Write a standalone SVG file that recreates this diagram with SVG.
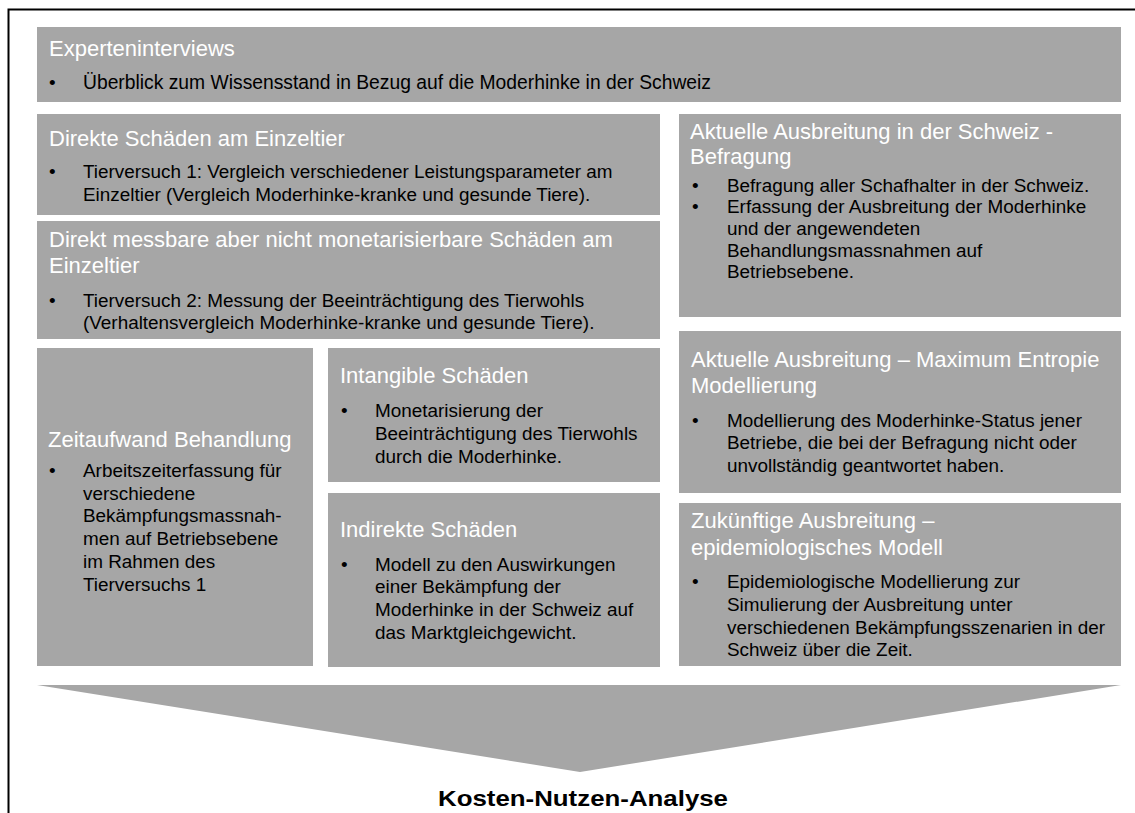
<svg xmlns="http://www.w3.org/2000/svg" width="1135" height="813" viewBox="0 0 1135 813">
<style>
.box{fill:#a6a6a6}
.t{font-family:"Liberation Sans",Arial,sans-serif;font-size:22px;fill:#ffffff}
.b{font-family:"Liberation Sans",Arial,sans-serif;font-size:18.9px;fill:#000000}
.k{font-family:"Liberation Sans",Arial,sans-serif;font-size:21.5px;font-weight:bold;fill:#000000}
</style>
<rect width="1135" height="813" fill="#ffffff"/>
<path d="M8.5,813 V9.5 H1135" fill="none" stroke="#000" stroke-width="2"/>

<g id="experteninterviews">
<rect class="box" x="37" y="27" width="1084" height="75"/>
<text class="t" x="49" y="56">Experteninterviews</text>
<text class="b" x="49" y="89">•</text>
<text class="b" x="83" y="89" style="font-size:19.3px">Überblick zum Wissensstand in Bezug auf die Moderhinke in der Schweiz</text>
</g>

<g id="direkte-schaeden">
<rect class="box" x="37" y="114" width="623" height="101"/>
<text class="t" x="49" y="146">Direkte Schäden am Einzeltier</text>
<text class="b" x="49" y="178.3">•</text>
<text class="b" x="83" y="178.3">Tierversuch 1: Vergleich verschiedener Leistungsparameter am</text>
<text class="b" x="83" y="201.3">Einzeltier (Vergleich Moderhinke-kranke und gesunde Tiere).</text>
</g>

<g id="direkt-messbare">
<rect class="box" x="37" y="221" width="623" height="118"/>
<text class="t" x="49" y="246.7">Direkt messbare aber nicht monetarisierbare Schäden am</text>
<text class="t" x="49" y="273.3">Einzeltier</text>
<text class="b" x="49" y="306.7">•</text>
<text class="b" x="83" y="306.7">Tierversuch 2: Messung der Beeinträchtigung des Tierwohls</text>
<text class="b" x="83" y="329.3">(Verhaltensvergleich Moderhinke-kranke und gesunde Tiere).</text>
</g>

<g id="zeitaufwand">
<rect class="box" x="37" y="348" width="276" height="318"/>
<text class="t" x="48" y="447.3">Zeitaufwand Behandlung</text>
<text class="b" x="49" y="476.7">•</text>
<text class="b" x="83" y="476.7">Arbeitszeiterfassung für</text>
<text class="b" x="83" y="499.5">verschiedene</text>
<text class="b" x="83" y="522.3">Bekämpfungsmassnah-</text>
<text class="b" x="83" y="545.1">men auf Betriebsebene</text>
<text class="b" x="83" y="567.9">im Rahmen des</text>
<text class="b" x="83" y="590.7">Tierversuchs 1</text>
</g>

<g id="intangible">
<rect class="box" x="328" y="348" width="332" height="134"/>
<text class="t" x="340" y="383.3">Intangible Schäden</text>
<text class="b" x="341" y="417.3">•</text>
<text class="b" x="375" y="417.3">Monetarisierung der</text>
<text class="b" x="375" y="440">Beeinträchtigung des Tierwohls</text>
<text class="b" x="375" y="462.7">durch die Moderhinke.</text>
</g>

<g id="indirekte">
<rect class="box" x="328" y="493" width="332" height="174"/>
<text class="t" x="340" y="537.3">Indirekte Schäden</text>
<text class="b" x="341" y="570.7">•</text>
<text class="b" x="375" y="570.7">Modell zu den Auswirkungen</text>
<text class="b" x="375" y="593.4">einer Bekämpfung der</text>
<text class="b" x="375" y="616.1">Moderhinke in der Schweiz auf</text>
<text class="b" x="375" y="638.8">das Marktgleichgewicht.</text>
</g>

<g id="befragung">
<rect class="box" x="679" y="114" width="442" height="203"/>
<text class="t" x="690" y="139.3">Aktuelle Ausbreitung in der Schweiz -</text>
<text class="t" x="690" y="164.3">Befragung</text>
<text class="b" x="692" y="191.7">•</text>
<text class="b" x="727" y="191.7">Befragung aller Schafhalter in der Schweiz.</text>
<text class="b" x="692" y="213.3">•</text>
<text class="b" x="727" y="213.3">Erfassung der Ausbreitung der Moderhinke</text>
<text class="b" x="727" y="235">und der angewendeten</text>
<text class="b" x="727" y="256.7">Behandlungsmassnahmen auf</text>
<text class="b" x="727" y="278.3">Betriebsebene.</text>
</g>

<g id="maximum-entropie">
<rect class="box" x="679" y="331" width="442" height="162"/>
<text class="t" x="691" y="366.7">Aktuelle Ausbreitung – Maximum Entropie</text>
<text class="t" x="691" y="393.3">Modellierung</text>
<text class="b" x="692" y="426.7">•</text>
<text class="b" x="727" y="426.7">Modellierung des Moderhinke-Status jener</text>
<text class="b" x="727" y="449.3">Betriebe, die bei der Befragung nicht oder</text>
<text class="b" x="727" y="471.7">unvollständig geantwortet haben.</text>
</g>

<g id="zukuenftige">
<rect class="box" x="679" y="503" width="442" height="163"/>
<text class="t" x="691" y="528.3">Zukünftige Ausbreitung –</text>
<text class="t" x="691" y="555">epidemiologisches Modell</text>
<text class="b" x="692" y="588.3">•</text>
<text class="b" x="727" y="588.3">Epidemiologische Modellierung zur</text>
<text class="b" x="727" y="611">Simulierung der Ausbreitung unter</text>
<text class="b" x="727" y="633.5">verschiedenen Bekämpfungsszenarien in der</text>
<text class="b" x="727" y="656">Schweiz über die Zeit.</text>
</g>

<g id="kosten-nutzen">
<polygon class="box" points="37,685 1121,685 580,772"/>
<text class="k" x="438" y="806" textLength="290" lengthAdjust="spacingAndGlyphs">Kosten-Nutzen-Analyse</text>
</g>
</svg>
